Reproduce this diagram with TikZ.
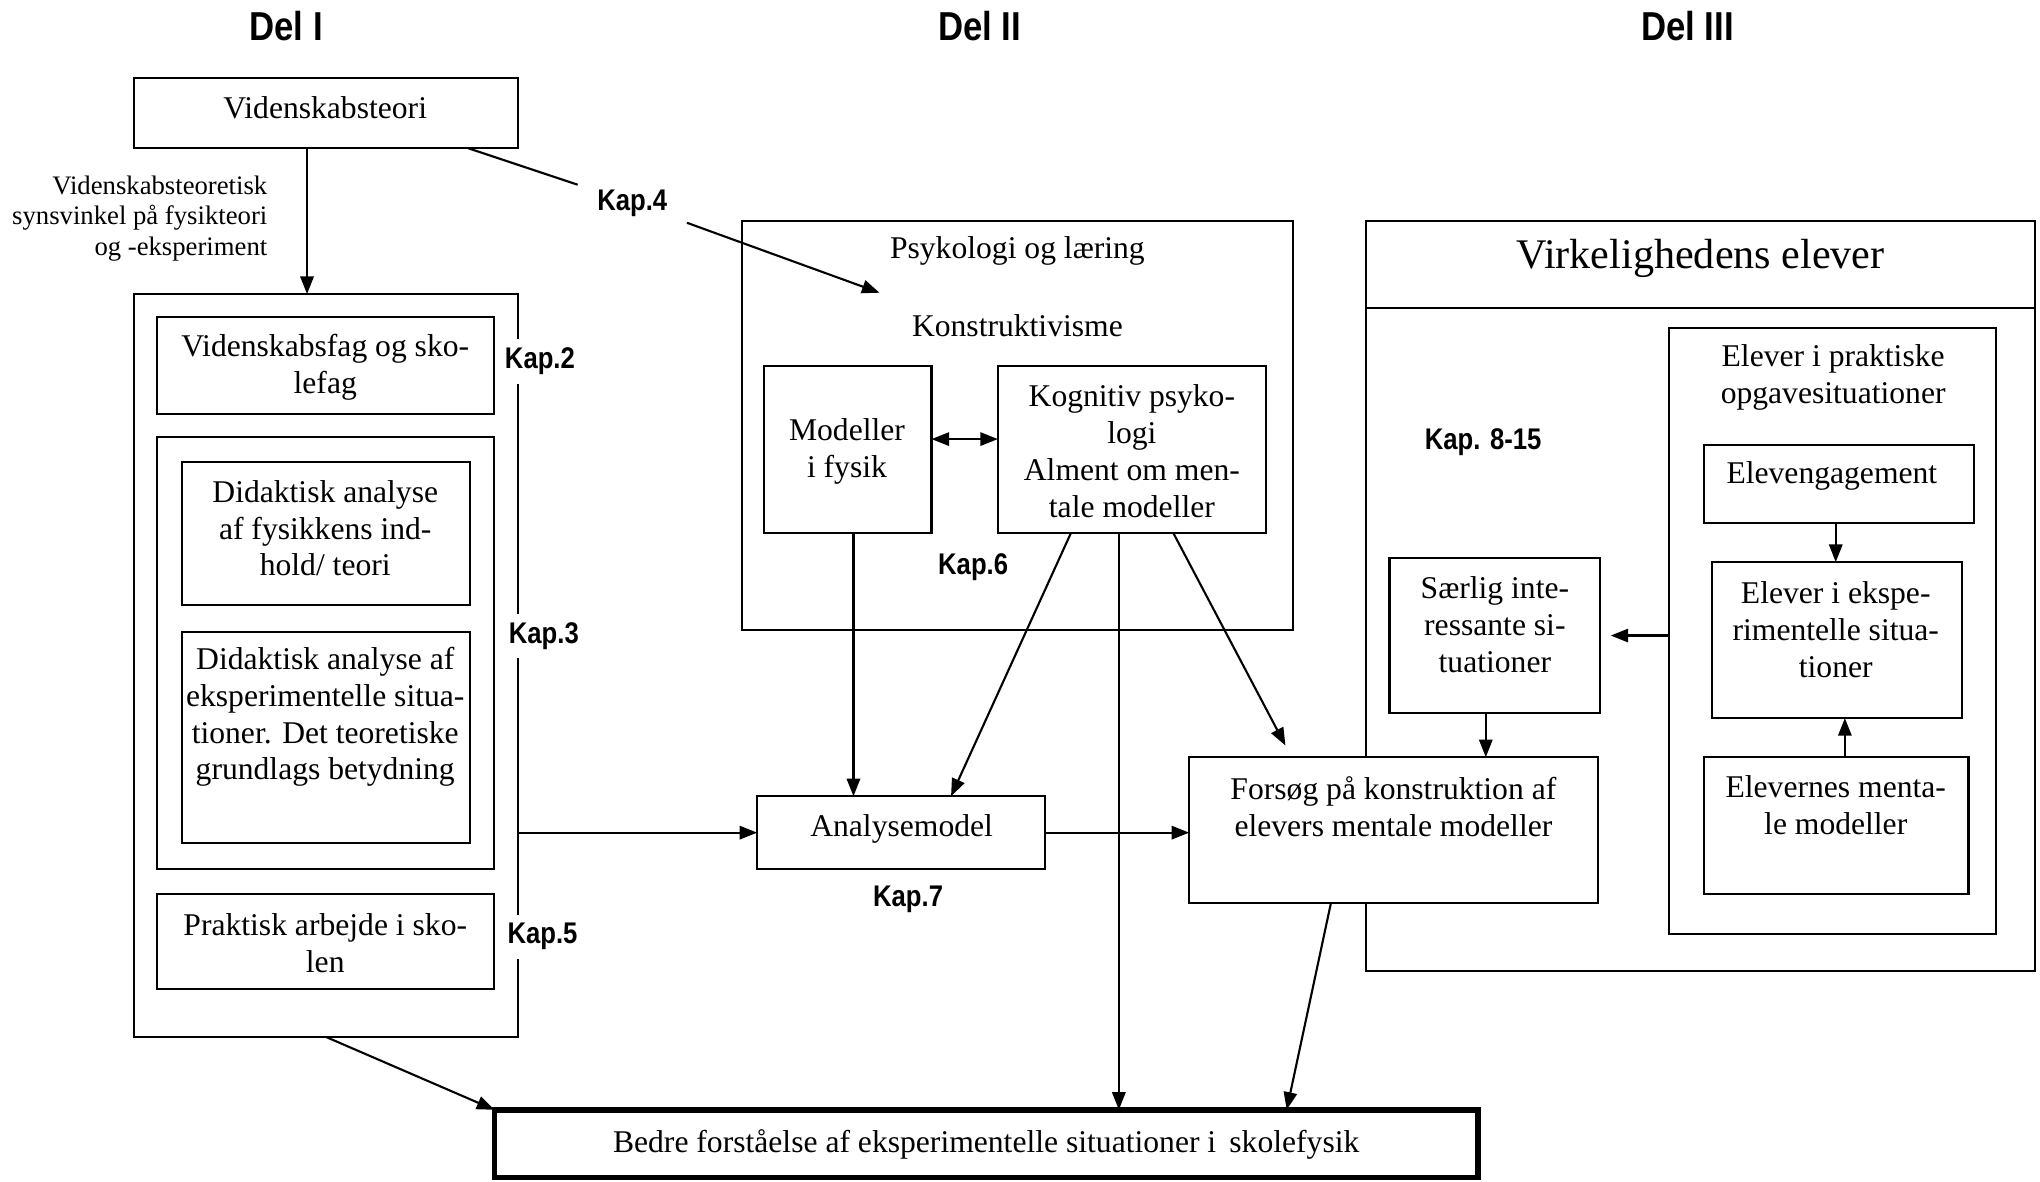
\documentclass[tikz,border=0pt]{standalone}
\usepackage{fontspec}
\setmainfont{Liberation Serif}
\newfontfamily\kapfont[FakeStretch=0.86]{Liberation Sans}
\usetikzlibrary{arrows.meta,calc}
\newcommand\pxu{0.013011cm}
% \boxat[opts]{x1}{y1}{x2}{y2}{name}: empty frame between two corners
\newcommand\boxat[6][]{\node[box,#1,minimum width={(#4-#2)*\pxu},minimum height={(#5-#3)*\pxu}] (#6) at ({(#2+#4)/2},{(#3+#5)/2}) {};}
\tikzset{
  box/.style={draw,line width=0.6pt,inner sep=0pt,outer sep=0pt,fill=white},
  txt/.style={align=center,inner sep=0pt,font=\fontsize{9}{10.5}\selectfont},
  small/.style={align=right,inner sep=0pt,font=\fontsize{7.6}{8.7}\selectfont},
  kap/.style={inner sep=2.5pt,fill=white,font=\kapfont\bfseries\fontsize{8.5}{10}\selectfont},
  del/.style={inner sep=0pt,font=\kapfont\bfseries\fontsize{11.5}{13}\selectfont},
  arr/.style={-{Triangle[length=5pt,width=3.8pt]},line width=0.6pt},
  dbl/.style={{Triangle[length=5pt,width=3.8pt]}-{Triangle[length=5pt,width=3.8pt]},line width=0.6pt},
  ln/.style={line width=0.6pt}
}
\begin{document}
\begin{tikzpicture}[x=\pxu,y=-\pxu]
\useasboundingbox (0,0) rectangle (1568,908);

% part headings
\node[del] (del1) at (220,20) {Del I};
\node[del] (del2) at (753,20) {Del II};
\node[del] (del3) at (1297,20) {Del III};

% ---- Del I ----
\boxat{103}{60}{398}{114}{vt}
\node[txt] (vt-t) at (250,83) {Videnskabsteori};
\boxat{103}{226}{398}{797}{lb}
\boxat{121}{244}{380}{318}{vf}
\node[txt] (vf-t) at (250,282) {Videnskabsfag og sko-\\lefag};
\boxat{121}{336}{380}{668}{dc}
\boxat{140}{355}{361}{465}{d1}
\node[txt] (d1-t) at (250,406) {Didaktisk analyse\\af fysikkens ind-\\hold/ teori};
\boxat{140}{486}{361}{648}{d2}
\node[txt] (d2-t) at (250,551) {Didaktisk analyse af\\eksperimentelle situa-\\tioner. Det teoretiske\\grundlags betydning};
\boxat{121}{687}{380}{760}{pa}
\node[txt] (pa-t) at (250,725) {Praktisk arbejde i sko-\\len};
\node[small,anchor=east] (vs-t) at (206,168) {Videnskabsteoretisk\\synsvinkel på fysikteori\\og -eksperiment};

% ---- Del II ----
\boxat{570}{170}{994}{484}{ps}
\node[txt] (ps-t) at (782,193) {Psykologi og læring};
\node[txt] (ko-t) at (782,250) {Konstruktivisme};
\boxat{587}{281}{716}{410}{mf}
\node[txt] (mf-t) at (651,347) {Modeller\\i fysik};
\boxat{767}{281}{973}{410}{kog}
\node[txt] (kog-t) at (870,347) {Kognitiv psyko-\\logi\\Alment om men-\\tale modeller};
\boxat{582}{612}{803}{668}{am}
\node[txt] (am-t) at (693,637) {Analysemodel};

% ---- Del III ----
\boxat{1050}{170}{1564}{746}{ve}
\boxat{1050}{170}{1564}{237}{vh}
\node[txt,font=\fontsize{12}{13.5}\selectfont] (vh-t) at (1307,199) {Virkelighedens elever};
\boxat{1283}{252}{1534}{718}{ep}
\node[txt] (ep-t) at (1409,290) {Elever i praktiske\\opgavesituationer};
\boxat{1310}{342}{1517}{402}{eg}
\node[txt] (eg-t) at (1408,366) {Elevengagement};
\boxat{1316}{432}{1508}{552}{ee}
\node[txt] (ee-t) at (1411,484) {Elever i ekspe-\\rimentelle situa-\\tioner};
\boxat{1310}{582}{1513}{687}{em}
\node[txt] (em-t) at (1411,619) {Elevernes menta-\\le modeller};
\boxat{1068}{429}{1230}{548}{sl}
\node[txt] (sl-t) at (1149,480) {Særlig inte-\\ressante si-\\tuationer};
\boxat{914}{582}{1228}{694}{fo}
\node[txt] (fo-t) at (1071,620) {Forsøg på konstruktion af\\elevers mentale modeller};

% result
\boxat[line width=1.6pt]{380}{853}{1136}{905}{bd}
\node[txt] (bd-t) at (758,880) {Bedre forståelse af eksperimentelle situationer i\, skolefysik};

% ---- connectors ----
\draw[arr] ($(vt.south west)+(133,0)$) coordinate (c1) -- (c1 |- lb.north);
\node[kap,minimum width={83*\pxu}] (kap4) at (486,156) {Kap.4};
\coordinate (k4end) at (676,225);
\draw[ln] ($(vt.south west)+(257,0)$) -- (kap4);
\draw[arr] (kap4) -- (k4end);
\draw[arr] (lb.east |- am.west) -- (am.west);
\draw[arr] (lb.south) -- (bd.north west);
\draw[dbl] ($(mf.east)+(0,-8)$) coordinate (c2) -- (c2 -| kog.west);
\draw[arr] ($(mf.south west)+(69,0)$) coordinate (c3) -- (c3 |- am.north);
\draw[arr] ($(kog.south west)+(56,0)$) -- ($(am.north west)+(149,0)$);
\draw[arr] ($(kog.south west)+(93,0)$) coordinate (c4) -- (c4 |- bd.north);
\draw[arr] ($(kog.south west)+(135,0)$) -- ($(fo.north west)+(74,-9)$);
\draw[arr] (am.east) -- (am.east -| fo.west);
\draw[arr] ($(fo.south west)+(109,0)$) -- ($(bd.north west)+(609,0)$);
\draw[arr] (ep.west |- sl.east) -- ($(sl.east)+(8,0)$);
\draw[arr] ($(sl.south west)+(74,0)$) coordinate (c5) -- (c5 |- fo.north);
\draw[arr] ($(eg.south west)+(101,0)$) coordinate (c6) -- (c6 |- ee.north);
\draw[arr] ($(em.north west)+(108,0)$) coordinate (c7) -- (c7 |- ee.south);

% chapter marks
\node[kap] (kap2) at (415,278) {Kap.2};
\node[kap] (kap3) at (418,489) {Kap.3};
\node[kap] (kap5) at (417,720) {Kap.5};
\node[kap] (kap6) at (748,436) {Kap.6};
\node[kap] (kap7) at (698,691) {Kap.7};
\node[kap] (kap815) at (1140,340) {Kap. 8-15};
\end{tikzpicture}
\end{document}
